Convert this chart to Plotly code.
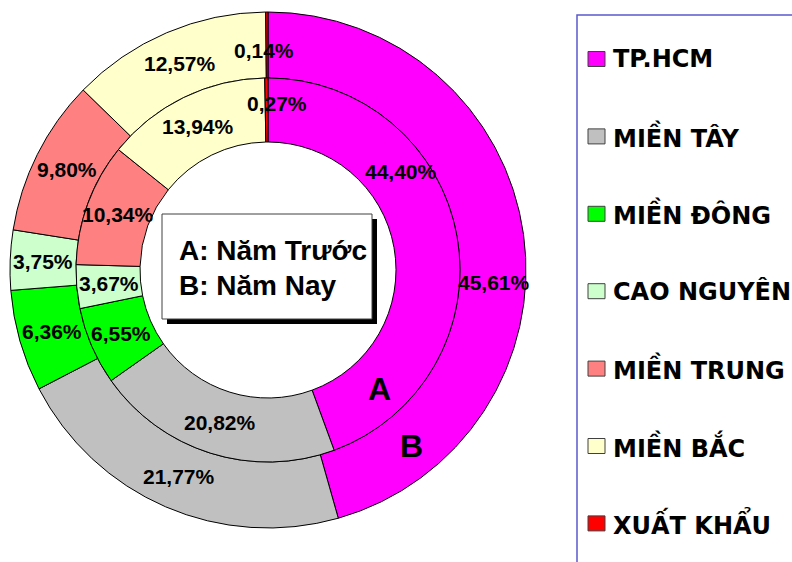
import plotly.graph_objects as go
import math

# ---------------- data ----------------
categories = ["TP.HCM", "MIỀN TÂY", "MIỀN ĐÔNG", "CAO NGUYÊN", "MIỀN TRUNG", "MIỀN BẮC", "XUẤT KHẨU"]
nam_truoc = [44.40, 20.82, 6.55, 3.67, 10.34, 13.94, 0.27]   # A (inner ring)
nam_nay = [45.61, 21.77, 6.36, 3.75, 9.80, 12.57, 0.14]      # B (outer ring)
colors = ["#FF00FF", "#C0C0C0", "#00FF00", "#CCFFCC", "#FF8080", "#FFFFCC", "#FF0000"]

# ---------------- geometry (pixels) ----------------
W, H = 792, 562
CX, CY = 268, 270          # centre of the rings (from top-left)
R_OUT, R_MID, R_HOLE = 258, 192, 128


def dom(r):
    cy_b = H - CY
    return dict(x=[(CX - r) / W, (CX + r) / W], y=[(cy_b - r) / H, (cy_b + r) / H])


fig = go.Figure()
fig.add_trace(go.Pie(
    labels=categories, values=nam_nay, sort=False, direction="clockwise", rotation=0,
    hole=R_MID / R_OUT, domain=dom(R_OUT), textinfo="none", hoverinfo="label+percent",
    marker=dict(colors=colors, line=dict(color="black", width=1)), showlegend=False,
))
fig.add_trace(go.Pie(
    labels=categories, values=nam_truoc, sort=False, direction="clockwise", rotation=0,
    hole=R_HOLE / R_MID, domain=dom(R_MID), textinfo="none", hoverinfo="label+percent",
    marker=dict(colors=colors, line=dict(color="black", width=1)), showlegend=False,
))


def px(x, y):
    return x / W, 1 - y / H

annotations = []
shapes = []

LABEL_FONT = dict(family="Liberation Sans, Arial", size=21, color="black", weight="bold")

# label placement tweaks (fraction along slice, radius, xshift) per ring, by index
inner_tweak = {0: (0.335, 165, 0), 6: (0.5, 167, 10)}
outer_tweak = {0: (0.568, 226, 0), 6: (0.5, 220, -3)}


def ring_labels(vals, r_default, tweak):
    tot = sum(vals)
    cum = 0.0
    for i, v in enumerate(vals):
        frac, r, xs = tweak.get(i, (0.5, r_default, 0))
        ang = (cum + v * frac) / tot * 2 * math.pi
        cum += v
        x = CX + r * math.sin(ang)
        y = CY - r * math.cos(ang)
        xp, yp = px(x, y)
        annotations.append(dict(
            x=xp, y=yp, xref="paper", yref="paper", showarrow=False, xshift=xs,
            text=f"{v:.2f}".replace(".", ",") + "%", font=LABEL_FONT,
            xanchor="center", yanchor="middle"))


ring_labels(nam_truoc, 160, inner_tweak)
ring_labels(nam_nay, 225, outer_tweak)

# centre text box with shadow
bx0, by0, bx1, by1 = 162, 214, 372, 319
sh = 5
shapes.append(dict(type="rect", xref="paper", yref="paper",
                   x0=(bx0 + sh) / W, x1=(bx1 + sh) / W, y0=1 - (by1 + sh) / H, y1=1 - (by0 + sh) / H,
                   fillcolor="black", line=dict(width=0)))
shapes.append(dict(type="rect", xref="paper", yref="paper",
                   x0=bx0 / W, x1=bx1 / W, y0=1 - by1 / H, y1=1 - by0 / H,
                   fillcolor="white", line=dict(color="#404040", width=1)))
BOX_FONT = dict(family="Liberation Sans, Arial", size=28, color="black", weight="bold")
for txt, yy in [("A: Năm Trước", 250), ("B: Năm Nay", 285)]:
    xp, yp = px(177, yy)
    annotations.append(dict(x=xp, y=yp, xref="paper", yref="paper", showarrow=False,
                            text=txt, font=BOX_FONT, xanchor="left", yanchor="middle"))

# ring letters
AB_FONT = dict(family="Liberation Sans, Arial", size=32, color="black", weight="bold")
for txt, (xx, yy) in [("A", (379, 389)), ("B", (411, 446))]:
    xp, yp = px(xx, yy)
    annotations.append(dict(x=xp, y=yp, xref="paper", yref="paper", showarrow=False,
                            text=txt, font=AB_FONT, xanchor="center", yanchor="middle"))

# legend box
shapes.append(dict(type="rect", xref="paper", yref="paper",
                   x0=577 / W, x1=820 / W, y0=1 - 590 / H, y1=1 - 15 / H,
                   fillcolor="rgba(0,0,0,0)", line=dict(color="#5A5AD0", width=1.5)))
LEG_FONT = dict(family="DejaVu Sans", size=24, color="black", weight="bold")
leg_y0, leg_dy = 59, 77.4
for i, (name, col) in enumerate(zip(categories, colors)):
    yc = leg_y0 + i * leg_dy
    shapes.append(dict(type="rect", xref="paper", yref="paper",
                       x0=588 / W, x1=605 / W, y0=1 - (yc + 7.5) / H, y1=1 - (yc - 7.5) / H,
                       fillcolor=col, line=dict(color="#404040", width=1)))
    xp, yp = px(611, yc)
    annotations.append(dict(x=xp, y=yp, xref="paper", yref="paper", showarrow=False,
                            text=name, font=LEG_FONT, xanchor="left", yanchor="middle"))

fig.update_layout(
    width=W, height=H, margin=dict(l=0, r=0, t=0, b=0),
    paper_bgcolor="white", plot_bgcolor="white",
    annotations=annotations, shapes=shapes, showlegend=False,
)

fig.write_html("out.html", config={"displayModeBar": False},
               post_script="document.body.style.margin='0';document.body.style.overflow='hidden';")
